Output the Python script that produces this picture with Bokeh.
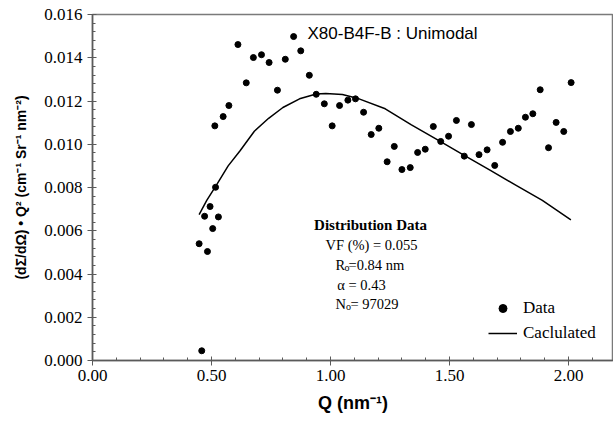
from bokeh.plotting import figure
from bokeh.models import (ColumnDataSource, Range1d, FixedTicker, NumeralTickFormatter,
                          Label, Legend, LegendItem)
from bokeh.embed import file_html
from bokeh.resources import INLINE

# ---- data ----
q_data = [0.448, 0.459, 0.471, 0.483, 0.494, 0.505, 0.514, 0.517, 0.529, 0.549,
          0.573, 0.611, 0.646, 0.676, 0.710, 0.742, 0.777, 0.810, 0.845, 0.875,
          0.911, 0.940, 0.974, 1.007, 1.038, 1.073, 1.105, 1.139, 1.171, 1.203,
          1.238, 1.268, 1.300, 1.335, 1.366, 1.398, 1.432, 1.463, 1.496, 1.529,
          1.562, 1.592, 1.624, 1.658, 1.690, 1.723, 1.756, 1.789, 1.819, 1.850,
          1.881, 1.916, 1.948, 1.980, 2.011]
i_data = [0.00540, 0.00045, 0.00667, 0.00504, 0.00712, 0.00610, 0.01085, 0.00801, 0.00664, 0.01128,
          0.01179, 0.01461, 0.01284, 0.01401, 0.01414, 0.01378, 0.01250, 0.01393, 0.01498, 0.01432,
          0.01319, 0.01231, 0.01187, 0.01085, 0.01179, 0.01204, 0.01210, 0.01148, 0.01045, 0.01074,
          0.00919, 0.00990, 0.00883, 0.00892, 0.00962, 0.00977, 0.01082, 0.01013, 0.01037, 0.01110,
          0.00945, 0.01091, 0.00952, 0.00974, 0.00902, 0.01009, 0.01059, 0.01074, 0.01125, 0.01141,
          0.01252, 0.00984, 0.01101, 0.01059, 0.01285]

q_calc = [0.448, 0.48, 0.52, 0.57, 0.62, 0.68, 0.74, 0.80, 0.87, 0.94, 0.98,
          1.05, 1.12, 1.23, 1.34, 1.45, 1.56, 1.67, 1.78, 1.89, 2.01]
i_calc = [0.00675, 0.0074, 0.0081, 0.0090, 0.0097, 0.0106, 0.0112, 0.0117, 0.0121, 0.01232, 0.01235,
          0.0123, 0.0121, 0.01164, 0.0109, 0.0102, 0.0095, 0.0088, 0.0081, 0.0074, 0.0065]

x_ticks = [0.0, 0.5, 1.0, 1.5, 2.0]
x_minor = [round(0.1 * k, 2) for k in range(0, 23)]
y_ticks = [0.000, 0.002, 0.004, 0.006, 0.008, 0.010, 0.012, 0.014, 0.016]
y_minor = [round(0.0004 * k, 4) for k in range(0, 41)]

title_text = "X80-B4F-B : Unimodal"
series_names = ["Data", "Caclulated"]
y_label = "(d\u03a3/d\u03a9) \u2022 Q\u00b2 (cm\u207b\u00b9 Sr\u207b\u00b9 nm\u207b\u00b2)"
x_label = "Q (nm\u207b\u00b9)"

# ---- figure ----
p = figure(width=613, height=425, output_backend="svg", toolbar_location=None,
           x_range=Range1d(0, 2.189), y_range=Range1d(0, 0.016),
           min_border_left=92, min_border_right=0, min_border_top=14, min_border_bottom=65)
p.background_fill_color = "white"
p.border_fill_color = "white"
p.outline_line_color = "#7a7a7a"
p.outline_line_width = 1.5
p.grid.visible = False

serif = "Liberation Serif"
sans = "Liberation Sans"

for ax in (p.xaxis[0], p.yaxis[0]):
    ax.axis_line_color = "#5a5a5a"
    ax.axis_line_width = 1.5
    ax.major_tick_line_color = "#5a5a5a"
    ax.minor_tick_line_color = "#5a5a5a"
    ax.major_tick_in = 4
    ax.major_tick_out = 5
    ax.minor_tick_in = 3
    ax.minor_tick_out = 0
    ax.major_label_text_font = serif
    ax.major_label_text_font_size = "17px"
    ax.major_label_text_color = "black"
    ax.axis_label_text_font = sans
    ax.axis_label_text_font_style = "bold"
    ax.axis_label_text_color = "black"

p.xaxis.ticker = FixedTicker(ticks=x_ticks, minor_ticks=x_minor)
p.yaxis.ticker = FixedTicker(ticks=y_ticks, minor_ticks=y_minor)
p.xaxis.formatter = NumeralTickFormatter(format="0.00")
p.yaxis.formatter = NumeralTickFormatter(format="0.000")
p.xaxis.major_label_standoff = 4
p.yaxis.major_label_standoff = 5

p.xaxis.axis_label = x_label
p.xaxis.axis_label_text_font_size = "18px"
p.xaxis.axis_label_standoff = 9
p.yaxis.axis_label = y_label
p.yaxis.axis_label_text_font_size = "14px"
p.yaxis.axis_label_standoff = 12

src = ColumnDataSource(dict(q=q_data, i=i_data))
csrc = ColumnDataSource(dict(q=q_calc, i=i_calc))
calc_r = p.line("q", "i", source=csrc, line_color="black", line_width=1.5)
data_r = p.scatter("q", "i", source=src, size=6, fill_color="black", line_color="black")

legend = Legend(items=[LegendItem(label=series_names[0], renderers=[data_r]),
                       LegendItem(label=series_names[1], renderers=[calc_r])],
                location=(396, 17), border_line_color=None, background_fill_alpha=0,
                padding=0, margin=0, spacing=5, glyph_width=29, glyph_height=20,
                label_height=20, label_standoff=6, label_text_font=serif,
                label_text_font_size="17px", label_text_color="black")
p.add_layout(legend)

# title inside plot
p.add_layout(Label(x=(307 - 92) / 238, y=(360 - 33) * 0.016 / 346, text=title_text, text_font=sans,
                   text_font_size="17px", text_color="black", text_baseline="alphabetic"))

# distribution data text block
def lab(px, py, t, size="14.5px", style="normal", align="center"):
    p.add_layout(Label(x=(px - 92) / 238, y=(360 - py) * 0.016 / 346, text=t, text_font=serif,
                       text_font_size=size, text_font_style=style, text_align=align,
                       text_baseline="alphabetic", text_color="black"))

lab(370, 224, "Distribution Data", size="15px", style="bold")
lab(371, 244, "VF (%) = 0.055")
lab(335, 264, "R", align="left")
lab(344, 267, "o", size="10px", align="left")
lab(348, 264, "=0.84 nm", align="left")
lab(361, 284, "\u03b1 = 0.43")
lab(335, 303, "N", align="left")
lab(345.5, 306, "o", size="10px", align="left")
lab(350, 303, " = 97029", align="left")

open("out.html", "w").write(file_html(p, INLINE))
